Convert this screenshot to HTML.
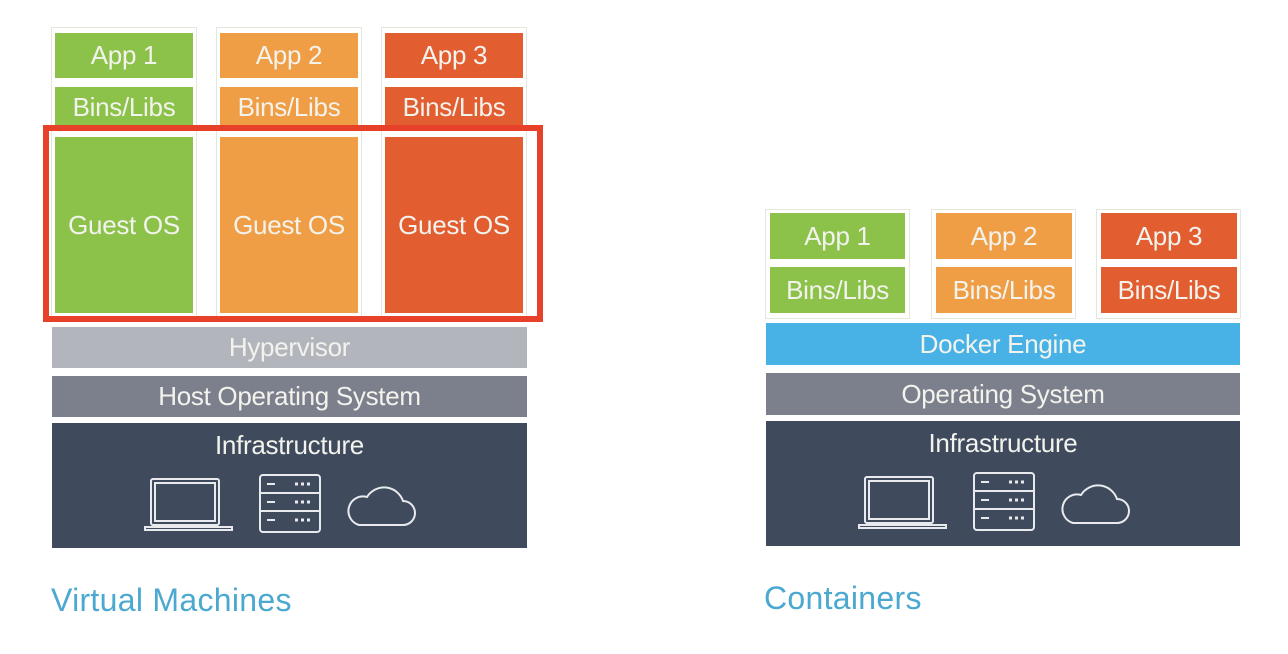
<!DOCTYPE html>
<html><head><meta charset="utf-8"><style>
body{margin:0;width:1288px;height:654px;background:#fff;position:relative;overflow:hidden;font-family:"Liberation Sans",sans-serif}
.b{position:absolute;color:#f3f3ee;display:flex;align-items:center;justify-content:center;font-size:26px;box-sizing:border-box;letter-spacing:-0.3px}
.o{position:absolute;border:1px solid #e4e8dc;box-sizing:border-box}
.g{background:#8cc24a}.or{background:#f09e45}.r{background:#e25d30}
.t{position:absolute;color:#4ba8d0;font-size:32px;letter-spacing:0.3px}
</style></head><body>
<!-- VM -->
<div class="o" style="left:51px;top:27px;width:146px;height:290px"></div>
<div class="o" style="left:216px;top:27px;width:146px;height:290px"></div>
<div class="o" style="left:381px;top:27px;width:146px;height:290px"></div>
<div class="b g" style="left:55px;top:33px;width:138px;height:45px">App 1</div>
<div class="b or" style="left:220px;top:33px;width:138px;height:45px">App 2</div>
<div class="b r" style="left:385px;top:33px;width:138px;height:45px">App 3</div>
<div class="b g" style="left:55px;top:87px;width:138px;height:40px">Bins/Libs</div>
<div class="b or" style="left:220px;top:87px;width:138px;height:40px">Bins/Libs</div>
<div class="b r" style="left:385px;top:87px;width:138px;height:40px">Bins/Libs</div>
<div class="b g" style="left:55px;top:137px;width:138px;height:176px">Guest OS</div>
<div class="b or" style="left:220px;top:137px;width:138px;height:176px">Guest OS</div>
<div class="b r" style="left:385px;top:137px;width:138px;height:176px">Guest OS</div>
<div style="position:absolute;left:43px;top:125px;width:500px;height:197px;border:6px solid #e8412a;box-sizing:border-box"></div>
<div class="b" style="left:52px;top:327px;width:475px;height:41px;background:#b2b5bc">Hypervisor</div>
<div class="b" style="left:52px;top:376px;width:475px;height:41px;background:#7c808c">Host Operating System</div>
<div class="b" style="left:52px;top:423px;width:475px;height:125px;background:#3f4a5d;align-items:flex-start;padding-top:7px">Infrastructure</div>
<div class="t" style="left:51px;top:582px">Virtual Machines</div>
<!-- Containers -->
<div class="o" style="left:765px;top:209px;width:145px;height:110px"></div>
<div class="o" style="left:931px;top:209px;width:145px;height:110px"></div>
<div class="o" style="left:1096px;top:209px;width:145px;height:110px"></div>
<div class="b g" style="left:770px;top:213px;width:135px;height:46px">App 1</div>
<div class="b or" style="left:936px;top:213px;width:136px;height:46px">App 2</div>
<div class="b r" style="left:1101px;top:213px;width:136px;height:46px">App 3</div>
<div class="b g" style="left:770px;top:267px;width:135px;height:46px">Bins/Libs</div>
<div class="b or" style="left:936px;top:267px;width:136px;height:46px">Bins/Libs</div>
<div class="b r" style="left:1101px;top:267px;width:136px;height:46px">Bins/Libs</div>
<div class="b" style="left:766px;top:323px;width:474px;height:42px;background:#48b2e6">Docker Engine</div>
<div class="b" style="left:766px;top:373px;width:474px;height:42px;background:#7c808c">Operating System</div>
<div class="b" style="left:766px;top:421px;width:474px;height:125px;background:#3f4a5d;align-items:flex-start;padding-top:7px">Infrastructure</div>
<div class="t" style="left:764px;top:580px">Containers</div>
<svg width="1288" height="654" style="position:absolute;left:0;top:0">
<defs><g id="ic" fill="none" stroke="#e8eaee" stroke-width="2">
<rect x="6" y="0" width="68" height="46" rx="2"/>
<rect x="10" y="4" width="60" height="38"/>
<path d="M0 48 H87 V51 H0 Z"/>
<rect x="115" y="-4" width="60" height="57" rx="3"/>
<path d="M115 14 H175 M115 32 H175"/>
<path d="M122 5 H130 M122 23 H130 M122 41 H130" />
<path d="M150 5h3M156 5h3M162 5h3M150 23h3M156 23h3M162 23h3M150 41h3M156 41h3M162 41h3" stroke-width="3"/>
<path d="M214 46 H258 A12 12 0 0 0 258 22 A20 20 0 0 0 222 18 A14 14 0 0 0 214 46 Z"/>
</g></defs>
<use href="#ic" x="145" y="479"/>
<use href="#ic" x="859" y="477"/>
</svg>
</body></html>
